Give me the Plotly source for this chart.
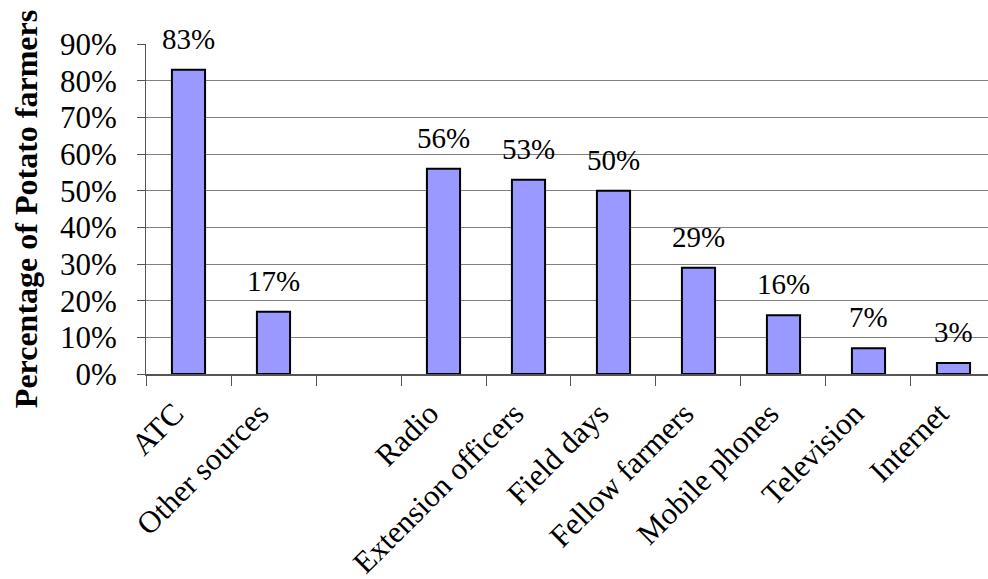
import plotly.graph_objects as go

categories = ["ATC", "Other sources", " ", "Radio", "Extension officers", "Field days",
              "Fellow farmers", "Mobile phones", "Television", "Internet"]
values = [83, 17, None, 56, 53, 50, 29, 16, 7, 3]
labels = ["83%", "17%", "", "56%", "53%", "50%", "29%", "16%", "7%", "3%"]
yticks = [0, 10, 20, 30, 40, 50, 60, 70, 80, 90]
ytick_text = [f"{v}%" for v in yticks]

FONT = "Liberation Serif"

fig = go.Figure()
fig.add_trace(go.Bar(
    x=categories, y=values,
    marker=dict(color="#9999FF", line=dict(color="black", width=2)),
    width=0.39,
))

for c, v, t in zip(categories, values, labels):
    if v is None:
        continue
    fig.add_annotation(x=c, y=v, text=t, showarrow=False, yanchor="bottom",
                       yshift=13, font=dict(family=FONT, size=29, color="black"))

fig.update_layout(
    width=988, height=579,
    margin=dict(l=146, r=0, t=44, b=205),
    paper_bgcolor="white", plot_bgcolor="white",
    showlegend=False,
    font=dict(family=FONT, color="black"),
    bargap=0.6,
)
fig.update_xaxes(
    type="category", categoryorder="array", categoryarray=categories,
    range=[-0.5, 9.406],
    tickson="boundaries", ticks="outside", ticklen=10, tickcolor="#555555",
    showline=True, linecolor="#555555", linewidth=2,
    showgrid=False, tickangle=-45, ticklabelstandoff=7, ticklabelshift=-14,
    tickfont=dict(family=FONT, size=31, color="black"),
    automargin=False,
)
fig.update_yaxes(
    range=[0, 90], tickvals=yticks, ticktext=ytick_text,
    ticks="outside", ticklen=8, tickcolor="#555555",
    showline=True, linecolor="#555555", linewidth=1,
    showgrid=True, gridcolor="#808080", gridwidth=1,
    zeroline=False, ticklabelstandoff=14,
    tickfont=dict(family=FONT, size=31, color="black"),
    title=dict(text="<b>Percentage of Potato farmers</b>", standoff=12,
               font=dict(family=FONT, size=32, color="black")),
    automargin=False,
)

fig.write_html("out.html")
